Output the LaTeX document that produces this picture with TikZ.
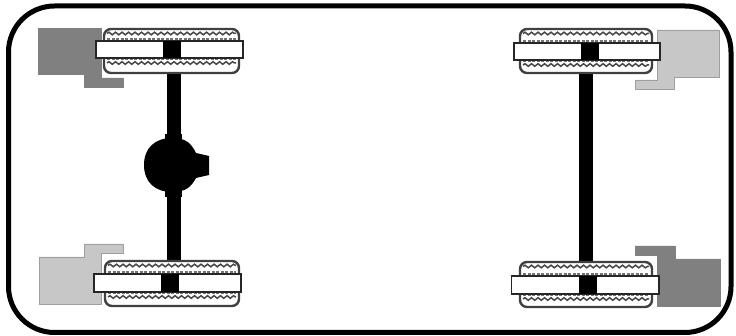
\documentclass[tikz,border=0pt]{standalone}
\usetikzlibrary{decorations.pathmorphing}
\tikzset{
  x=1pt,y=-1pt,
  frame/.style={draw=black,line width=5pt,rounded corners=46pt},
  tyre/.style={draw=black!75,line width=2.4pt,fill=white,rounded corners=7pt},
  wave/.style={draw=black!72,line width=1.5pt,decorate,decoration={snake,amplitude=1.3pt,segment length=6.5pt}},
  speck/.style={draw=black!55,line width=2pt,dash pattern=on 3pt off 1.5pt},
  rim/.style={draw=black!85,line width=1.4pt,fill=white},
  solid black/.style={fill=black,draw=none},
  darkbracket/.style={fill=black!50,draw=black!50,line width=0.6pt,line join=round},
  lightbracket/.style={fill=black!22,draw=black!38,line width=0.8pt,line join=round},
}
% #1 tyre left, #2 tyre right, #3 tyre top, #4 tyre bottom, #5 rim left, #6 rim right, #7 rim top, #8 rim bottom, #9 hub left
\newcommand{\wheelset}[9]{%
  \draw[tyre] (#1,#3) rectangle (#2,#4);
  \draw[wave] (#1+3,#3+4.5) -- (#2-3,#3+4.5);
  \draw[speck] (#1+3,#7-1.5) -- (#2-3,#7-1.5);
  \draw[speck] (#1+3,#8+1.5) -- (#2-3,#8+1.5);
  \draw[wave] (#1+3,#8+5) -- (#2-3,#8+5);
  \draw[rim] (#5,#7) rectangle (#6,#8);
  \fill[solid black] (#9,#7) rectangle (#9+18,#8);
}
\begin{document}
\begin{tikzpicture}
\useasboundingbox (0,0) rectangle (736,336);
\fill[white] (0,0) rectangle (736,336);
\draw[frame] (8.5,6) rectangle (731,332.5);

% axles
\fill[solid black] (167,74) rectangle (181,260);
\fill[solid black] (579,74) rectangle (593,261);

% differential
\fill[solid black] (144,165) .. controls (144,148) and (155,138) .. (172,138)
  .. controls (186,138) and (191,143) .. (196,153) -- (209,156) -- (209,175) -- (196,178)
  .. controls (191,187) and (186,192) .. (172,192)
  .. controls (155,192) and (144,182) .. (144,165) -- cycle;
\fill[solid black] (165,134) rectangle (182,197);

% brackets
\draw[darkbracket] (38.5,28.5) -- (101,28.5) -- (101,78) -- (123,78) -- (123,87) -- (84,87) -- (84,74) -- (38.5,74) -- cycle;
\draw[lightbracket] (39,257) -- (84,257) -- (84,244) -- (123,244) -- (123,253) -- (101,253) -- (101,304) -- (39,304) -- cycle;
\draw[lightbracket] (657,30) -- (719,30) -- (719,77) -- (674,77) -- (674,89) -- (635,89) -- (635,80) -- (657,80) -- cycle;
\draw[darkbracket] (657,306) -- (720,306) -- (720,259) -- (675,259) -- (675,246) -- (635,246) -- (635,255) -- (657,255) -- cycle;

% wheels
\wheelset{104}{239}{29}{73}{96}{243}{41}{58}{163}
\wheelset{105}{239}{261}{306}{94}{241}{274}{292}{161}
\wheelset{520}{652}{29}{73}{514}{660}{43}{60}{581}
\wheelset{520}{652}{262}{307}{511.5}{659}{276}{294}{579}
\end{tikzpicture}
\end{document}
